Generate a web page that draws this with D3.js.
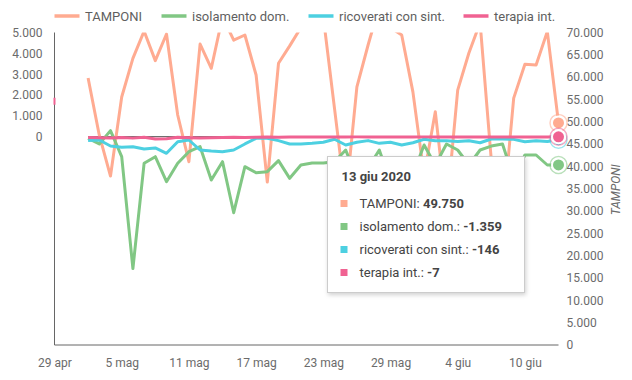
<!DOCTYPE html>
<html><head><meta charset="utf-8">
<script src="https://cdn.jsdelivr.net/npm/d3@7"></script>
<style>
html,body{margin:0;padding:0;background:#fff;}
svg{display:block;font-family:Roboto,"Noto Sans",sans-serif;}
</style></head>
<body><svg id="chart" width="632" height="380"></svg>
<script>
// ---- data ----
const startDate = "2020-05-02";
const domainStart = "2020-04-29";
const domainEnd = "2020-06-13";
const seriesNames = ["TAMPONI", "isolamento dom.", "ricoverati con sint.", "terapia int."];
const tamponi = [59800,47000,37850,55550,64200,70300,63700,69660,51520,41060,67420,61980,73500,68300,69440,60480,36500,63100,67000,71100,
  75000,73500,53000,32500,57800,67200,76000,71100,69440,56700,38000,52260,30000,57100,65400,72200,41400,27800,55300,62900,62700,70200,49750];
const isolamento = [-80,-350,290,-960,-6330,-1280,-960,-2160,-1280,-720,-480,-2080,-1200,-3650,-1440,-1730,-1680,-1150,-2000,-1360,
  -1265,-1265,-1200,-640,-2000,-1500,-640,-2200,-1700,-1800,-400,-1360,-350,-640,-1360,-640,-450,-350,-2000,-880,-880,-1360,-1359];
const ricoverati = [-190,-160,-450,-510,-480,-590,-540,-800,-240,-160,-640,-690,-720,-640,-350,-80,-80,-190,-350,-350,
  -320,-270,-125,-400,-270,-190,-320,-270,-400,-290,-125,-200,-200,-230,-200,-290,-110,-110,-130,-240,-200,-230,-146];
const terapia = [-40,-50,-60,-40,-70,-30,-110,-100,-30,-50,-60,-50,-40,-30,-40,-30,-20,-30,-20,-20,
  -20,-20,-10,-20,-10,-10,-10,-20,-10,-20,-10,-10,-10,-10,-10,-10,-10,-10,-10,-10,-10,-10,-7];
const leftTicks = [0,1000,2000,3000,4000,5000];
const rightTicks = [0,5000,10000,15000,20000,25000,30000,35000,40000,45000,50000,55000,60000,65000,70000];
const xTickLabels = ["29 apr","5 mag","11 mag","17 mag","23 mag","29 mag","4 giu","10 giu"];
const xTickStepDays = 6;
const leftDomain = [-10000, 5000];
const rightDomain = [0, 70000];
const strayMark = {date:"2020-04-29", value:1700}; // small pink mark on left axis
const tooltipTitle = "13 giu 2020";

// ---- styles ----
const colors = ["#ffab91", "#81c784", "#4dd0e1", "#f06292"];
const W = 632, H = 380;
const plot = {left:54.5, right:558.5, top:32.5, bottom:345};

const itLocale = d3.formatLocale({decimal:",", thousands:".", grouping:[3], currency:["€",""], minus:"-"});
const fmt = itLocale.format(",d");

const parse = d3.utcParse("%Y-%m-%d");
const d0 = parse(startDate);
const dates = tamponi.map((_, i) => d3.utcDay.offset(d0, i));

const x = d3.scaleUtc().domain([parse(domainStart), parse(domainEnd)]).range([plot.left, plot.right]);
const yL = d3.scaleLinear().domain(leftDomain).range([plot.bottom, plot.top]);
const yR = d3.scaleLinear().domain(rightDomain).range([plot.bottom, plot.top]);

const svg = d3.select("#chart");
const defs = svg.append("defs");
defs.append("clipPath").attr("id","clip").append("rect")
  .attr("x", plot.left).attr("y", plot.top).attr("width", plot.right - plot.left + 6).attr("height", plot.bottom - plot.top);
const f = defs.append("filter").attr("id","shadow").attr("x","-10%").attr("y","-10%").attr("width","130%").attr("height","140%");
f.append("feDropShadow").attr("dx",1).attr("dy",2).attr("stdDeviation",2).attr("flood-color","#000").attr("flood-opacity",0.18);

// legend
const legendX = [54.5, 161.5, 308.5, 463.5];
const lg = svg.append("g").attr("font-size", 13).attr("fill", "#5f5f5f");
seriesNames.forEach((n, i) => {
  lg.append("line").attr("x1", legendX[i]).attr("x2", legendX[i] + 25).attr("y1", 16).attr("y2", 16)
    .attr("stroke", colors[i]).attr("stroke-width", 3.5);
  lg.append("text").attr("x", legendX[i] + 30.5).attr("y", 20.5).text(n);
});

// zero baseline
const base = svg.append("g");
base.append("line").attr("x1", x(dates[0])).attr("x2", x(dates[dates.length-1]))
  .attr("y1", yL(0)).attr("y2", yL(0)).attr("stroke", "#555").attr("stroke-width", 1);

// axes
const axisColor = "#666", labelColor = "#6b6b6b";
// left
const gl = svg.append("g").attr("transform", `translate(${plot.left},0)`);
gl.call(d3.axisLeft(yL).tickValues(leftTicks).tickSize(0).tickPadding(12).tickFormat(fmt));
gl.select(".domain").attr("stroke", axisColor).attr("d", `M0,${plot.top}V${plot.bottom}`);
gl.selectAll("text").attr("fill", labelColor).attr("font-size", 12).attr("font-family", "Roboto");
// right
const gr = svg.append("g").attr("transform", `translate(${plot.right},0)`);
gr.call(d3.axisRight(yR).tickValues(rightTicks).tickSize(0).tickPadding(8).tickFormat(fmt));
gr.select(".domain").remove();
gr.selectAll("text").attr("fill", labelColor).attr("font-size", 12).attr("font-family", "Roboto");
svg.append("text").attr("transform", `translate(620,${(plot.top+plot.bottom)/2 + 1}) rotate(-90)`)
  .attr("text-anchor", "middle").attr("font-size", 12).attr("font-style", "italic").attr("fill", labelColor).text("TAMPONI");
// bottom
const xTicks = xTickLabels.map((_, i) => d3.utcDay.offset(parse(domainStart), i * xTickStepDays));
const gb = svg.append("g").attr("transform", `translate(0,${plot.bottom})`);
gb.call(d3.axisBottom(x).tickValues(xTicks).tickSize(0).tickPadding(13).tickFormat((d, i) => xTickLabels[i]));
gb.select(".domain").attr("stroke", axisColor).attr("d", `M${plot.left},0H${plot.right}`);
gb.selectAll("text").attr("fill", labelColor).attr("font-size", 12).attr("font-family", "Roboto");

// stray mark
svg.append("rect").attr("x", x(parse(strayMark.date)) - 1).attr("y", yL(strayMark.value) - 3.5)
  .attr("width", 2).attr("height", 7).attr("fill", colors[3]);

// series
const series = [
  {vals: tamponi, y: yR},
  {vals: isolamento, y: yL},
  {vals: ricoverati, y: yL},
  {vals: terapia, y: yL}
];
const lines = svg.append("g").attr("clip-path", "url(#clip)");
series.forEach((s, k) => {
  const line = d3.line().x((d, i) => x(dates[i])).y(d => s.y(d));
  lines.append("path").datum(s.vals).attr("d", line).attr("fill", "none")
    .attr("stroke", colors[k]).attr("stroke-width", 3).attr("stroke-linejoin", "round");
});

// hover circles at last point
const last = dates.length - 1;
const hov = svg.append("g");
series.forEach((s, k) => {
  const cx = x(dates[last]), cy = s.y(s.vals[last]);
  hov.append("circle").attr("cx", cx).attr("cy", cy).attr("r", 8.5).attr("fill", "none")
    .attr("stroke", colors[k]).attr("stroke-opacity", 0.55).attr("stroke-width", 1.5);
  hov.append("circle").attr("cx", cx).attr("cy", cy).attr("r", 6.5).attr("fill", colors[k])
    .attr("stroke", "#fff").attr("stroke-width", 2);
});

// tooltip
const tt = svg.append("g").attr("transform", "translate(327.5,156.5)");
tt.append("rect").attr("width", 197).attr("height", 136).attr("fill", "#fff")
  .attr("stroke", "#cccccc").attr("stroke-width", 1).attr("filter", "url(#shadow)");
tt.append("text").attr("x", 14).attr("y", 24).attr("font-size", 13).attr("font-weight", "bold").attr("fill", "#444").text(tooltipTitle);
const vals = [tamponi[last], isolamento[last], ricoverati[last], terapia[last]];
seriesNames.forEach((n, i) => {
  const yy = 47 + i * 23;
  tt.append("rect").attr("x", 13).attr("y", yy - 3.5).attr("width", 7).attr("height", 7).attr("fill", colors[i]);
  const t = tt.append("text").attr("x", 32).attr("y", yy + 4.5).attr("font-size", 13).attr("fill", "#444");
  t.append("tspan").text(n + ": ");
  t.append("tspan").attr("font-weight", "bold").text(fmt(vals[i]));
});
</script></body></html>
